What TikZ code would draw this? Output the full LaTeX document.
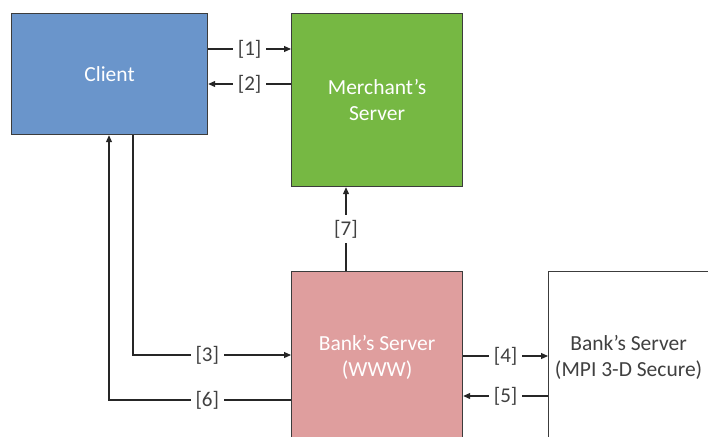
\documentclass[tikz,border=0pt]{standalone}
\usepackage{fontspec}
\setmainfont{Carlito}
\usetikzlibrary{arrows.meta}
\definecolor{clientblue}{HTML}{6A95CB}
\definecolor{merchgreen}{HTML}{76B843}
\definecolor{bankpink}{HTML}{DF9E9E}
\definecolor{edgegray}{HTML}{3C3C3C}
\definecolor{textgray}{HTML}{404040}
\tikzset{
  box/.style={draw=edgegray, line width=1.2pt, anchor=north west, inner sep=0pt,
    align=center, font=\fontsize{21.5}{26}\selectfont},
  arr/.style={line width=1.1pt, draw=black!85, -{Triangle[length=7pt,width=6pt]}},
  lbl/.style={fill=white, text=textgray, inner sep=5pt, font=\fontsize{21}{25}\selectfont}
}
\begin{document}
\begin{tikzpicture}[x=1pt,y=-1pt]
\useasboundingbox (0,0) rectangle (708,436);
\clip (0,0) rectangle (708,436);

% boxes
\node[box, fill=clientblue, text=white, minimum width=196pt, minimum height=121pt] (client) at (11,13) {Client};
\node[box, fill=merchgreen, text=white, minimum width=171pt, minimum height=173pt] (merchant) at (291,13) {Merchant’s\\Server};
\node[box, fill=bankpink, text=white, minimum width=171pt, minimum height=172pt] (bank) at (291,271) {Bank’s Server\\(WWW)};
\node[box, fill=white, text=textgray, minimum width=160pt, minimum height=172pt] (mpi) at (548,271) {Bank’s Server\\(MPI 3-D Secure)};

% message flow
\draw[arr] (client.east |- 0,49) -- (merchant.west |- 0,49) node[lbl, midway] {[1]};
\draw[arr] (merchant.west |- 0,84) -- (client.east |- 0,84) node[lbl, midway] {[2]};
\draw[arr] (client.south -| 133,0) |- (bank.west |- 0,355) node[lbl, pos=0.735] {[3]};
\draw[arr] (bank.east |- 0,356) -- (mpi.west |- 0,356) node[lbl, midway] {[4]};
\draw[arr] (mpi.west |- 0,396) -- (bank.east |- 0,396) node[lbl, midway] {[5]};
\draw[arr] (bank.west |- 0,400) -| (client.south -| 109,0) node[lbl, pos=0.23] {[6]};
\draw[arr] (bank.north -| 346,0) -- (merchant.south -| 346,0) node[lbl, midway] {[7]};
\end{tikzpicture}
\end{document}
